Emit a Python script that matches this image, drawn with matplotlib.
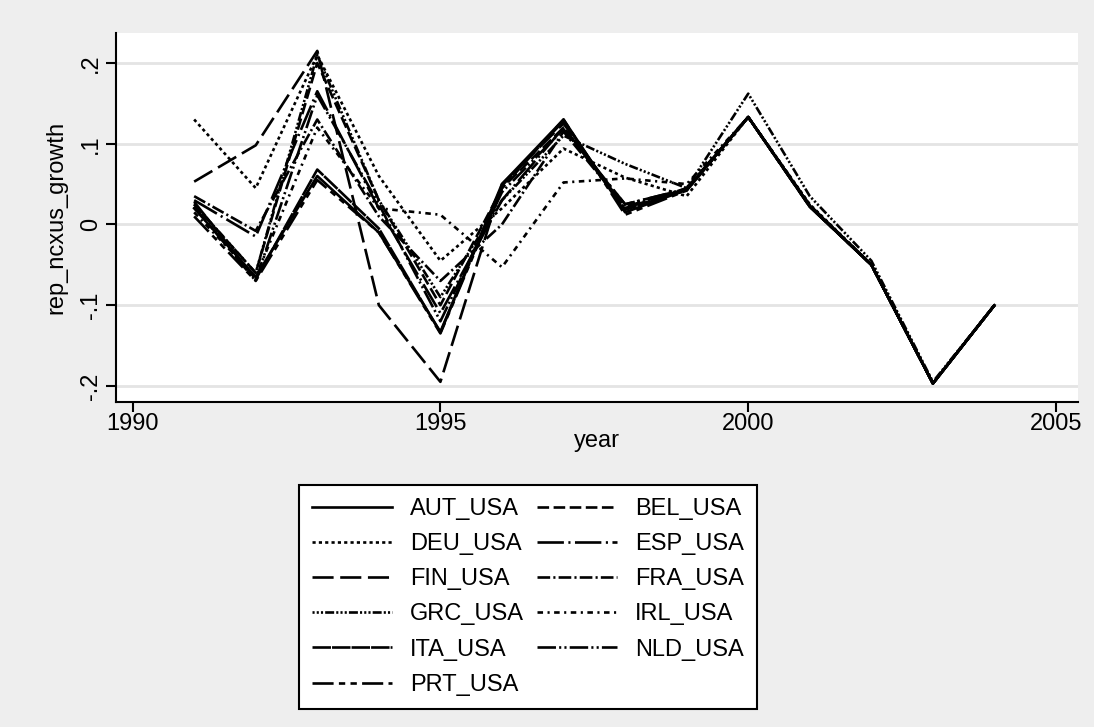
import numpy as np
import matplotlib
matplotlib.use("Agg")
import matplotlib.pyplot as plt

plt.rcParams['font.family'] = ['Liberation Sans', 'DejaVu Sans']

years = np.arange(1991, 2005)

# pair growth series
AUT_USA = [0.020, -0.065, 0.060, -0.010, -0.133, 0.050, 0.130, 0.015, 0.043, 0.133, 0.022, -0.050, -0.197, -0.100]
BEL_USA = [0.025, -0.060, 0.200, 0.030, -0.100, 0.045, 0.120, 0.020, 0.042, 0.133, 0.024, -0.050, -0.197, -0.100]
DEU_USA = [0.130, 0.045, 0.210, 0.060, -0.045, 0.020, 0.094, 0.058, 0.035, 0.133, 0.025, -0.050, -0.197, -0.100]
ESP_USA = [0.030, -0.015, 0.165, 0.020, -0.110, 0.030, 0.120, 0.025, 0.044, 0.133, 0.023, -0.050, -0.197, -0.100]
FIN_USA = [0.053, 0.098, 0.215, -0.100, -0.195, 0.050, 0.125, 0.020, 0.045, 0.133, 0.022, -0.050, -0.197, -0.100]
FRA_USA = [0.035, -0.008, 0.130, 0.010, -0.070, 0.000, 0.115, 0.022, 0.044, 0.133, 0.023, -0.050, -0.197, -0.100]
GRC_USA = [0.025, -0.060, 0.210, 0.030, -0.090, 0.030, 0.110, 0.075, 0.045, 0.162, 0.035, -0.045, -0.195, -0.100]
IRL_USA = [0.015, -0.065, 0.120, 0.020, 0.012, -0.053, 0.052, 0.057, 0.050, 0.133, 0.023, -0.050, -0.197, -0.100]
ITA_USA = [0.028, -0.068, 0.068, -0.005, -0.134, 0.048, 0.128, 0.018, 0.043, 0.133, 0.022, -0.050, -0.197, -0.100]
NLD_USA = [0.022, -0.070, 0.160, 0.025, -0.120, 0.040, 0.118, 0.025, 0.044, 0.133, 0.023, -0.050, -0.197, -0.100]
PRT_USA = [0.010, -0.070, 0.055, -0.010, -0.135, 0.045, 0.130, 0.012, 0.042, 0.133, 0.022, -0.050, -0.197, -0.100]

labels = ["AUT_USA", "BEL_USA", "DEU_USA", "ESP_USA", "FIN_USA", "FRA_USA",
          "GRC_USA", "IRL_USA", "ITA_USA", "NLD_USA", "PRT_USA"]
series = [AUT_USA, BEL_USA, DEU_USA, ESP_USA, FIN_USA, FRA_USA,
          GRC_USA, IRL_USA, ITA_USA, NLD_USA, PRT_USA]

# stata-ish line patterns (units of linewidth)
styles = [
    '-',
    (0, (4.4, 1.7)),
    (0, (1.2, 1.2)),
    (0, (10, 1.7, 0.8, 1.7)),
    (0, (8, 2.5)),
    (0, (4.8, 1.2, 0.8, 1.2)),
    (0, (0.8, 0.8, 0.8, 0.8, 0.8, 0.8, 3.4, 0.8)),
    (0, (2.1, 1.7, 0.8, 1.7)),
    (0, (7, 0.4)),
    (0, (7, 1.2, 0.8, 1.2, 0.8, 1.2)),
    (0, (8, 2, 2.4, 2, 2.4, 2)),
]

bg = '#eeeeee'
fs = 17
fig = plt.figure(figsize=(10.94, 7.27), dpi=100, facecolor=bg)
ax = fig.add_axes([0.106, 0.447, 0.879, 0.508])
ax.set_facecolor('white')

lines = []
for s, lab, ls in zip(series, labels, styles):
    ln, = ax.plot(years, s, color='black', lw=1.9, linestyle=ls, label=lab)
    lines.append(ln)

ax.set_xlim(1989.73, 2005.35)
ax.set_ylim(-0.22, 0.2375)

ax.set_xticks([1990, 1995, 2000, 2005])
ax.set_yticks([-0.2, -0.1, 0, 0.1, 0.2])
ax.set_yticklabels(["-.2", "-.1", "0", ".1", ".2"], rotation=90, va='center')
ax.tick_params(labelsize=fs, length=7, width=1.5, color='black', pad=3)
ax.tick_params(axis='x', pad=1)

ax.grid(axis='y', color='#e4e4e4', lw=2)
ax.set_axisbelow(True)
for sp in ['top', 'right']:
    ax.spines[sp].set_visible(False)
for sp in ['left', 'bottom']:
    ax.spines[sp].set_linewidth(1.5)

ax.set_xlabel("year", fontsize=fs, labelpad=-4)
ax.set_ylabel("rep_ncxus_growth", fontsize=fs, labelpad=9)

# row-major legend like stata
order = [0, 2, 4, 6, 8, 10, 1, 3, 5, 7, 9]
leg = fig.legend([lines[i] for i in order], [labels[i] for i in order],
                 ncol=2, loc='center', bbox_to_anchor=(0.273, 0.023, 0.419, 0.312),
                 mode='expand', borderaxespad=0, fontsize=fs, handlelength=3.4,
                 handletextpad=0.75, columnspacing=1.6, labelspacing=0.56,
                 fancybox=False, edgecolor='black', facecolor='white',
                 framealpha=1, borderpad=0.55)
leg.get_frame().set_linewidth(1.5)

fig.savefig("out.png", dpi=100, facecolor=bg)
